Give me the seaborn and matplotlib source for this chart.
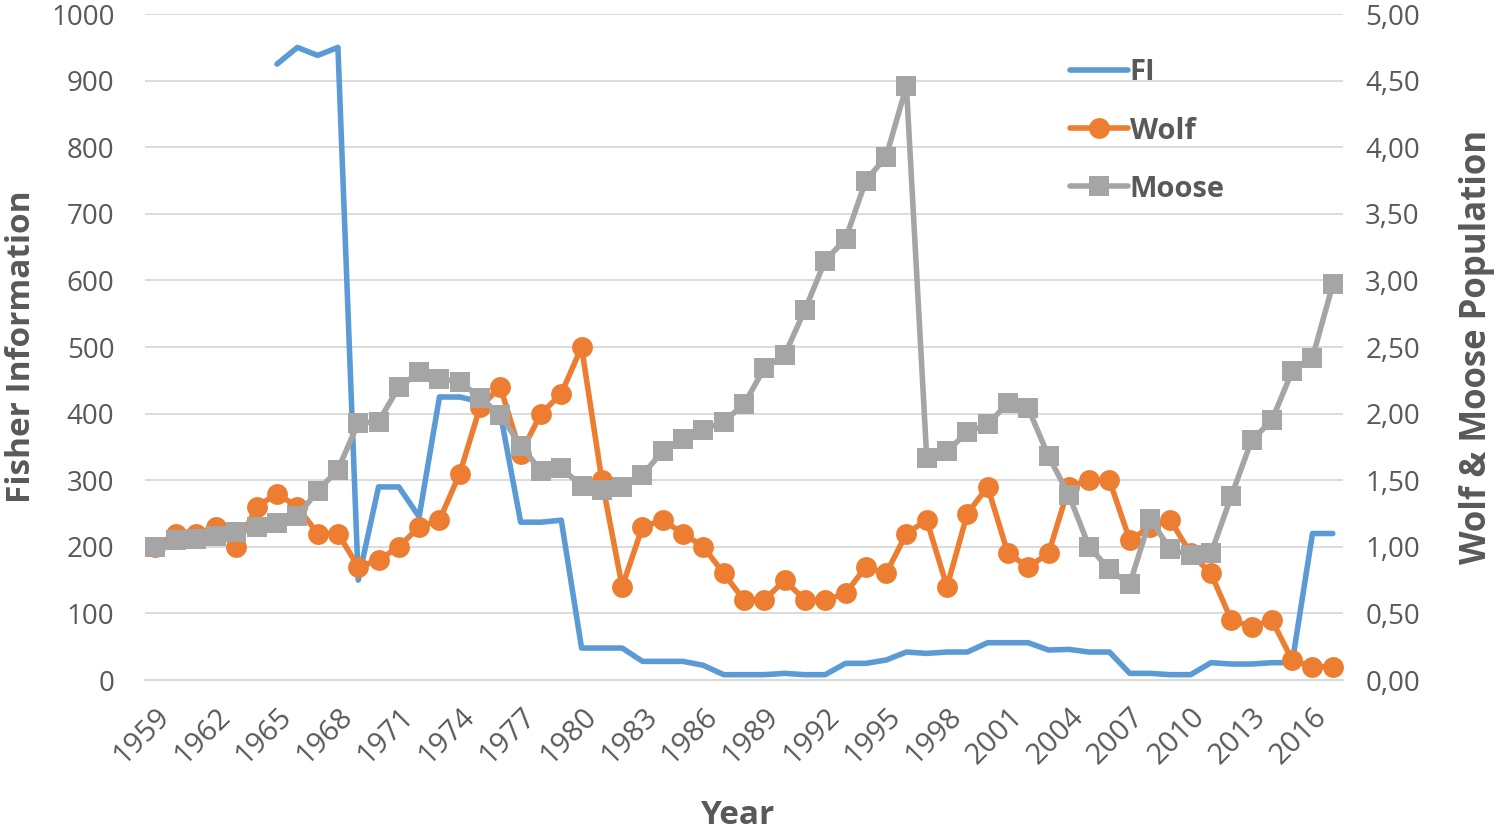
import numpy as np
import pandas as pd
import matplotlib
matplotlib.use("Agg")
import matplotlib.pyplot as plt
import seaborn as sns
from matplotlib.lines import Line2D

# Isle Royale: Fisher information vs. wolf & moose (normalised to 1959)
years = list(range(1959, 2018))

fi_years = list(range(1965, 2018))
fi = [925, 950, 938, 950, 150, 290, 290, 245, 425, 425,
      418, 400, 237, 237, 240, 48, 48, 48, 28, 28,
      28, 22, 8, 8, 8, 10, 8, 8, 25, 25,
      30, 42, 40, 42, 42, 56, 56, 56, 45, 46,
      42, 42, 10, 10, 8, 8, 26, 24, 24, 26,
      26, 220, 220]

wolf = [1.00, 1.10, 1.10, 1.15, 1.00, 1.30, 1.40, 1.30, 1.10, 1.10,
        0.85, 0.90, 1.00, 1.15, 1.20, 1.55, 2.05, 2.20, 1.70, 2.00,
        2.15, 2.50, 1.50, 0.70, 1.15, 1.20, 1.10, 1.00, 0.80, 0.60,
        0.60, 0.75, 0.60, 0.60, 0.65, 0.85, 0.80, 1.10, 1.20, 0.70,
        1.25, 1.45, 0.95, 0.85, 0.95, 1.45, 1.50, 1.50, 1.05, 1.15,
        1.20, 0.95, 0.80, 0.45, 0.40, 0.45, 0.15, 0.10, 0.10]

moose = [1.00, 1.05, 1.06, 1.08, 1.11, 1.15, 1.18, 1.23, 1.42, 1.58,
         1.93, 1.94, 2.20, 2.31, 2.26, 2.24, 2.12, 1.99, 1.76, 1.57,
         1.59, 1.46, 1.43, 1.45, 1.54, 1.72, 1.81, 1.88, 1.94, 2.07,
         2.34, 2.44, 2.78, 3.15, 3.31, 3.75, 3.93, 4.46, 1.67, 1.72,
         1.86, 1.92, 2.08, 2.04, 1.68, 1.39, 1.00, 0.83, 0.72, 1.21,
         0.98, 0.94, 0.95, 1.38, 1.80, 1.95, 2.32, 2.42, 2.97]

left_ticks = [0, 100, 200, 300, 400, 500, 600, 700, 800, 900, 1000]
right_ticks = [0, 0.5, 1, 1.5, 2, 2.5, 3, 3.5, 4, 4.5, 5]

c_fi = "#5B9BD5"
c_wolf = "#ED7D31"
c_moose = "#A5A5A5"
txt = "#595959"

sns.set_style("white")
plt.rcParams['font.family'] = ['Open Sans', 'DejaVu Sans']

fig = plt.figure(figsize=(15, 8.31), dpi=100)
ax = fig.add_axes([0.0967, 0.1817, 0.7986, 0.8013])
ax2 = ax.twinx()

sns.lineplot(x=fi_years, y=fi, ax=ax, color=c_fi, linewidth=4)
sns.lineplot(x=years, y=wolf, ax=ax2, color=c_wolf, linewidth=4,
             marker='o', markersize=15, markeredgewidth=0)
sns.lineplot(x=years, y=moose, ax=ax2, color=c_moose, linewidth=4,
             marker='s', markersize=14, markeredgewidth=0)

ax.set_xlim(years[0] - 0.5, years[-1] + 0.5)
ax.set_ylim(0, 1000)
ax2.set_ylim(0, 5)

ax.set_yticks(left_ticks)
ax.set_yticklabels([str(t) for t in left_ticks])
ax2.set_yticks(right_ticks)
ax2.set_yticklabels([f"{t:.2f}".replace('.', ',') for t in right_ticks])

ax.set_xticks(years[::3])
ax.set_xticklabels([str(y) for y in years[::3]], rotation=45, ha='right',
                   rotation_mode='anchor')
ax.set_xticks(np.arange(years[0] - 0.5, years[-1] + 1), minor=True)

ax.yaxis.grid(True, color='#d9d9d9', linewidth=1.3)
ax.set_axisbelow(True)
for a in (ax, ax2):
    for s in ('top', 'left', 'right'):
        a.spines[s].set_visible(False)
    a.spines['bottom'].set_color('#d9d9d9')
    a.spines['bottom'].set_linewidth(1.3)

ax.tick_params(axis='x', which='major', length=0, pad=16, labelsize=21, labelcolor=txt)
ax.tick_params(axis='x', which='minor', length=9, width=1.2, color='#d9d9d9')
ax.tick_params(axis='y', length=0, pad=22, labelsize=20, labelcolor=txt)
ax2.tick_params(axis='y', length=0, pad=16, labelsize=20, labelcolor=txt)

ax.set_xlabel("Year", fontsize=24, fontweight='bold', color=txt, va='center')
ax.xaxis.set_label_coords(0.494, -0.203)
ax.set_ylabel("Fisher Information", fontsize=24, fontweight='bold', color=txt, va='center')
ax.yaxis.set_label_coords(-0.1035, 0.5)
ax2.set_ylabel("Wolf & Moose Population", fontsize=25, fontweight='bold', color=txt, va='center')
ax2.yaxis.set_label_coords(1.112, 0.5)

handles = [Line2D([], [], color=c_fi, lw=4),
           Line2D([], [], color=c_wolf, lw=4, marker='o', markersize=15, markeredgewidth=0),
           Line2D([], [], color=c_moose, lw=4, marker='s', markersize=14, markeredgewidth=0)]
leg = ax2.legend(handles, ["FI", "Wolf", "Moose"], loc='upper left',
                 bbox_to_anchor=(0.750, 0.973), frameon=False, handlelength=2.0,
                 handletextpad=0.05, labelspacing=1.0,
                 prop={'size': 21, 'weight': 'bold'})
for t in leg.get_texts():
    t.set_color(txt)

fig.savefig("out.png", dpi=100)
